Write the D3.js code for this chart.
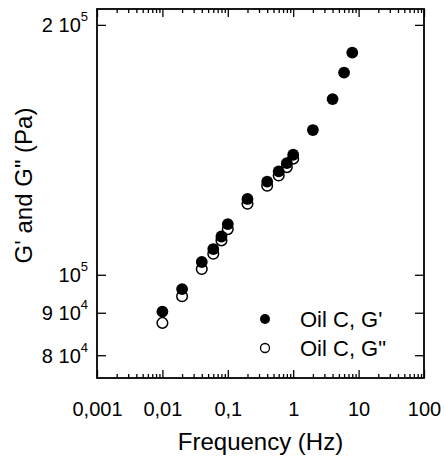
<!DOCTYPE html>
<html>
<head>
<meta charset="utf-8">
<script src="https://cdnjs.cloudflare.com/ajax/libs/d3/7.8.5/d3.min.js"></script>
<style>
  body { margin: 0; background: #fff; }
  svg { font-family: "Liberation Sans", Arial, sans-serif; }
</style>
</head>
<body>
<div id="chart"></div>
<script>
/*
 * data
 */
const freq = [0.01, 0.02, 0.04, 0.06, 0.08, 0.1, 0.2, 0.4, 0.6, 0.8, 1, 2, 4, 6, 8]
const gPrime = [90300, 96100, 103600, 107400, 111200, 115100, 123400, 129500, 133200, 136300, 139500, 149400, 162800, 175200, 185200]
const gDouble = [87500, 94200, 101600, 106000, 110000, 113500, 121800, 128000, 131700, 134800, 138000]

const xMajor = [0.001, 0.01, 0.1, 1, 10, 100]
const xLabels = ['0,001', '0,01', '0,1', '1', '10', '100']
const yMajor = [80000, 90000, 100000, 200000]
const yLabels = [['8 10', '4'], ['9 10', '4'], ['10', '5'], ['2 10', '5']]
const seriesNames = ["Oil C, G'", 'Oil C, G"']

/*
 * svg + scales
 */
const w = 444
const h = 461
const plotL = 97, plotR = 424, plotT = 9, plotB = 378

const svg = d3.select('#chart')
  .append('svg')
  .attr('width', w)
  .attr('height', h)

const x = d3.scaleLog().domain([0.001, 100]).range([plotL, plotR])
const y = d3.scaleLog().domain([75100, 209000]).range([plotB, plotT])

// minor ticks 2..9 of every decade
const xMinor = []
xMajor.slice(0, -1).forEach(d => {
  for (let k = 2; k <= 9; k++) xMinor.push(d * k)
})

/*
 * axes
 */
const xBottom = svg.append('g')
  .attr('transform', `translate(0,${plotB})`)
  .call(d3.axisBottom(x).tickValues(xMajor).tickSize(-8).tickPadding(24)
    .tickFormat((d, i) => xLabels[i]))
svg.append('g')
  .attr('transform', `translate(0,${plotB})`)
  .call(d3.axisBottom(x).tickValues(xMinor).tickSize(-4).tickFormat(''))

svg.append('g')
  .attr('transform', `translate(0,${plotT})`)
  .call(d3.axisTop(x).tickValues(xMajor).tickSize(-8).tickFormat(''))
svg.append('g')
  .attr('transform', `translate(0,${plotT})`)
  .call(d3.axisTop(x).tickValues(xMinor).tickSize(-4).tickFormat(''))

const yLeft = svg.append('g')
  .attr('transform', `translate(${plotL},0)`)
  .call(d3.axisLeft(y).tickValues(yMajor).tickSize(-9).tickFormat(''))
svg.append('g')
  .attr('transform', `translate(${plotR},0)`)
  .call(d3.axisRight(y).tickValues(yMajor).tickSize(-9).tickFormat(''))

svg.selectAll('.domain').remove()
svg.selectAll('.tick line').attr('stroke', '#000').attr('stroke-width', 1.3)

xBottom.selectAll('.tick text')
  .attr('font-size', 20)
  .attr('fill', '#000')
  .attr('font-family', '"Liberation Sans", Arial, sans-serif')

// y labels: mantissa + power of ten with superscript exponent
yLeft.selectAll('.tick').each(function(d, i) {
  const t = d3.select(this).append('text')
    .attr('x', -9)
    .attr('y', 7)
    .attr('text-anchor', 'end')
    .attr('fill', '#000')
    .attr('font-size', 20)
    .attr('font-family', '"Liberation Sans", Arial, sans-serif')
  t.append('tspan').text(yLabels[i][0])
  t.append('tspan').attr('font-size', 13).attr('dy', -11).text(yLabels[i][1])
})

// frame
svg.append('rect')
  .attr('x', plotL)
  .attr('y', plotT)
  .attr('width', plotR - plotL)
  .attr('height', plotB - plotT)
  .attr('fill', 'none')
  .attr('stroke', '#000')
  .attr('stroke-width', 1.8)

/*
 * titles
 */
svg.append('text')
  .attr('x', (plotL + plotR) / 2)
  .attr('y', 450)
  .attr('text-anchor', 'middle')
  .attr('font-size', 24)
  .text('Frequency (Hz)')

svg.append('text')
  .attr('transform', `translate(32,${(plotT + plotB) / 2 - 8}) rotate(-90)`)
  .attr('text-anchor', 'middle')
  .attr('font-size', 24)
  .text('G\' and G" (Pa)')

/*
 * points: open G" first, filled G' over it
 */
svg.append('g')
  .selectAll('circle')
  .data(gDouble)
  .enter()
  .append('circle')
  .attr('cx', (d, i) => x(freq[i]))
  .attr('cy', d => y(d))
  .attr('r', 5.3)
  .attr('fill', '#fff')
  .attr('stroke', '#000')
  .attr('stroke-width', 1.5)

svg.append('g')
  .selectAll('circle')
  .data(gPrime)
  .enter()
  .append('circle')
  .attr('cx', (d, i) => x(freq[i]))
  .attr('cy', d => y(d))
  .attr('r', 5.9)
  .attr('fill', '#000')

/*
 * legend
 */
const legend = svg.append('g')
seriesNames.forEach((name, i) => {
  const ly = 319 + i * 29
  legend.append('circle')
    .attr('cx', 265)
    .attr('cy', ly)
    .attr('r', i == 0 ? 5 : 4.5)
    .attr('fill', i == 0 ? '#000' : '#fff')
    .attr('stroke', '#000')
    .attr('stroke-width', i == 0 ? 0 : 1.3)
  legend.append('text')
    .attr('x', 300)
    .attr('y', ly + 8)
    .attr('font-size', 22)
    .text(name)
})
</script>
</body>
</html>
